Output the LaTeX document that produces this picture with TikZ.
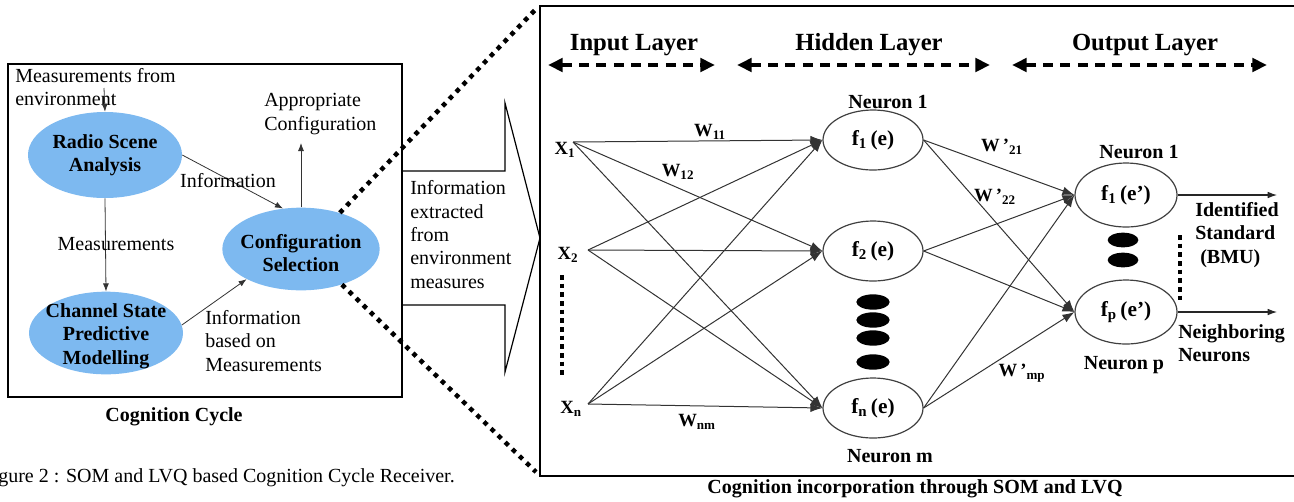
\documentclass[tikz,border=0pt]{standalone}
\usepackage{fontspec}
\setmainfont{Liberation Serif}
\usetikzlibrary{shapes.geometric,arrows.meta}
\definecolor{blobblue}{RGB}{125,185,240}
\begin{document}
\begin{tikzpicture}[x=0.75pt,y=-0.75pt,
  txt/.style={font=\fontsize{15}{17.5}\selectfont, inner sep=0pt, align=left},
  btxt/.style={font=\bfseries\fontsize{15}{17.5}\selectfont, inner sep=0pt, align=center},
  blob/.style={ellipse, fill=blobblue, inner sep=0pt},
  neuron/.style={ellipse, draw=black!75, line width=0.9pt, minimum width=75pt, minimum height=45pt, inner sep=0pt, font=\bfseries\fontsize{16}{19}\selectfont},
  oneuron/.style={neuron, minimum width=76.5pt, minimum height=48pt},
  bdot/.style={ellipse, fill=black, minimum width=25pt, minimum height=11.5pt, inner sep=0pt},
  larr/.style={draw=black!80, line width=0.6pt, -{Latex[length=6pt,width=4.5pt]}},
  narr/.style={draw=black!80, line width=0.75pt, -{Latex[length=9pt,width=6.5pt]}},
  oarr/.style={draw=black!85, line width=0.8pt, -{Latex[length=7pt,width=5pt]}},
  layerarr/.style={line width=3pt, dash pattern=on 7.5pt off 5.5pt, {Triangle[length=11pt,width=10pt]}-{Triangle[length=11pt,width=10pt]}},
  bigdots/.style={line width=3.4pt, line cap=butt, dash pattern=on 3.4pt off 4pt},
  sqdots/.style={line width=3.5pt, dash pattern=on 3.5pt off 3pt},
  wl/.style={font=\bfseries\fontsize{14}{16}\selectfont, inner sep=0pt},
  xl/.style={font=\bfseries\fontsize{14}{16}\selectfont, inner sep=0pt},
  layert/.style={font=\bfseries\fontsize{18.5}{22}\selectfont, inner sep=0pt},
]
\useasboundingbox (0,0) rectangle (1294,501);
\clip (0,0) rectangle (1294,501);

% ---------------- left: cognition cycle ----------------
\draw[line width=1.2pt] (8,64) rectangle (402,397);

\node[blob, minimum width=115.5pt, minimum height=64.5pt] (rsa) at (105,155) {};
\node[btxt] (rsat) at (105,155) {Radio Scene\\Analysis};
\node[blob, minimum width=115.5pt, minimum height=62pt] (cspm) at (106,333) {};
\node[btxt] (cspmt) at (106,336) {Channel State\\Predictive\\Modelling};
\node[blob, minimum width=118pt, minimum height=62pt] (cs) at (301,249) {};
\node[btxt] (cst) at (301,253) {Configuration\\Selection};

\node[txt, anchor=west] (env) at (15,87) {Measurements from\\environment};
\coordinate (envs) at (104,88);
\draw[larr] (envs) -- (rsa.north);

\draw[larr] (rsa.south) -- (cspm.north);
\node[txt] (meas) at (116,244) {Measurements};

\draw[larr] (rsa.east) -- (cs.114);
\node[txt] (info) at (228,181) {Information};

\coordinate (ac) at (301,143);
\draw[larr] (cs.north) -- (ac);
\node[txt, anchor=west] (appr) at (264,114) {Appropriate\\Configuration};

\draw[larr] (cspm.6) -- (cs.209);
\node[txt, anchor=west] (ibm) at (205,341) {Information\\based on\\Measurements};

\node[btxt] (cc) at (174,417) {Cognition Cycle};
\node[txt, anchor=east] (fig) at (455,478) {Figure 2 : SOM and LVQ based Cognition Cycle Receiver.};

% ---------------- big arrow ----------------
\draw[line width=0.9pt] (402,171) -- (505,171) -- (505,103) -- (540,238) -- (505,372) -- (505,305) -- (402,305);
\node[txt, anchor=west] (iexm) at (410,234.5) {Information\\extracted\\from\\environment\\measures};

% ---------------- right: network ----------------
\draw[line width=1.5pt] (540,6) rectangle (1300,476);

\coordinate (zt) at (536,9);
\coordinate (zb) at (536,472);
\draw[bigdots] (cs.43) -- (zt);
\draw[bigdots] (cs.-41) -- (zb);

\node[layert] (il) at (634,45) {Input Layer};
\node[layert] (hl) at (869,45) {Hidden Layer};
\node[layert] (ol) at (1145,45) {Output Layer};
\coordinate (ila) at (548,65); \coordinate (ilb) at (715,65);
\coordinate (hla) at (737,65); \coordinate (hlb) at (990,65);
\coordinate (ola) at (1012,65); \coordinate (olb) at (1267,65);
\draw[layerarr] (ila) -- (ilb);
\draw[layerarr] (hla) -- (hlb);
\draw[layerarr] (ola) -- (olb);

% inputs
\node[xl] (x1) at (565,150) {X\textsubscript{1}};
\node[xl] (x2) at (568,255) {X\textsubscript{2}};
\node[xl] (xn) at (571,409) {X\textsubscript{n}};
\coordinate (in1) at (573,142);
\coordinate (in2) at (588,250);
\coordinate (inn) at (588,404);
\coordinate (vd1) at (562,275);
\coordinate (vd2) at (562,378);
\draw[sqdots] (vd1) -- (vd2);

% hidden
\node[neuron] (h1) at (873,140) {f\textsubscript{1}\,(e)};
\node[neuron] (h2) at (873,251) {f\textsubscript{2}\,(e)};
\node[neuron] (hn) at (873,408) {f\textsubscript{n}\,(e)};
\node[btxt] (n1) at (888,102) {Neuron 1};
\node[btxt] (nm) at (890,456) {Neuron m};
\node[bdot] (d1) at (873,302) {};
\node[bdot] (d2) at (873,320) {};
\node[bdot] (d3) at (873,338) {};
\node[bdot] (d4) at (873,362) {};

\foreach \s in {in1,in2,inn} {
  \foreach \t in {h1,h2,hn} {
    \draw[narr] (\s) -- (\t.west);
  }
}
\node[wl] (w11) at (710,132) {W\textsubscript{11}};
\node[wl] (w12) at (678,172) {W\textsubscript{12}};
\node[wl] (wnm) at (697,422) {W\textsubscript{nm}};

% output
\node[oneuron] (o1) at (1126,195) {f\textsubscript{1}\,(e’)};
\node[oneuron] (op) at (1126,312) {f\textsubscript{p}\,(e’)};
\node[btxt] (on1) at (1139,152) {Neuron 1};
\node[btxt] (onp) at (1124,365) {Neuron p};
\node[bdot, minimum width=23pt, minimum height=11pt] (e1) at (1123,240) {};
\node[bdot, minimum width=23pt, minimum height=11pt] (e2) at (1123,260) {};

\foreach \s in {h1,h2,hn} {
  \foreach \t in {o1,op} {
    \draw[narr] (\s.east) -- (\t.west);
  }
}
\node[wl] (w21) at (1002,147) {W\,’\textsubscript{21}};
\node[wl] (w22) at (995,197) {W\,’\textsubscript{22}};
\node[wl] (wmp) at (1022,373) {W\,’\textsubscript{mp}};

\coordinate (oo1) at (1277,195);
\coordinate (oop) at (1277,312);
\draw[oarr] (o1.east) -- (oo1);
\draw[oarr] (op.east) -- (oop);

\node[btxt, anchor=west, align=left] (ids) at (1195,235) {Identified\\Standard\\\ (BMU)};
\node[btxt, anchor=west, align=left] (nbn) at (1178,343) {Neighboring\\Neurons};
\coordinate (bd1) at (1180,235);
\coordinate (bd2) at (1180,303);
\draw[sqdots] (bd1) -- (bd2);

\node[btxt] (cap) at (915,489) {Cognition incorporation through SOM and LVQ};
\end{tikzpicture}
\end{document}
